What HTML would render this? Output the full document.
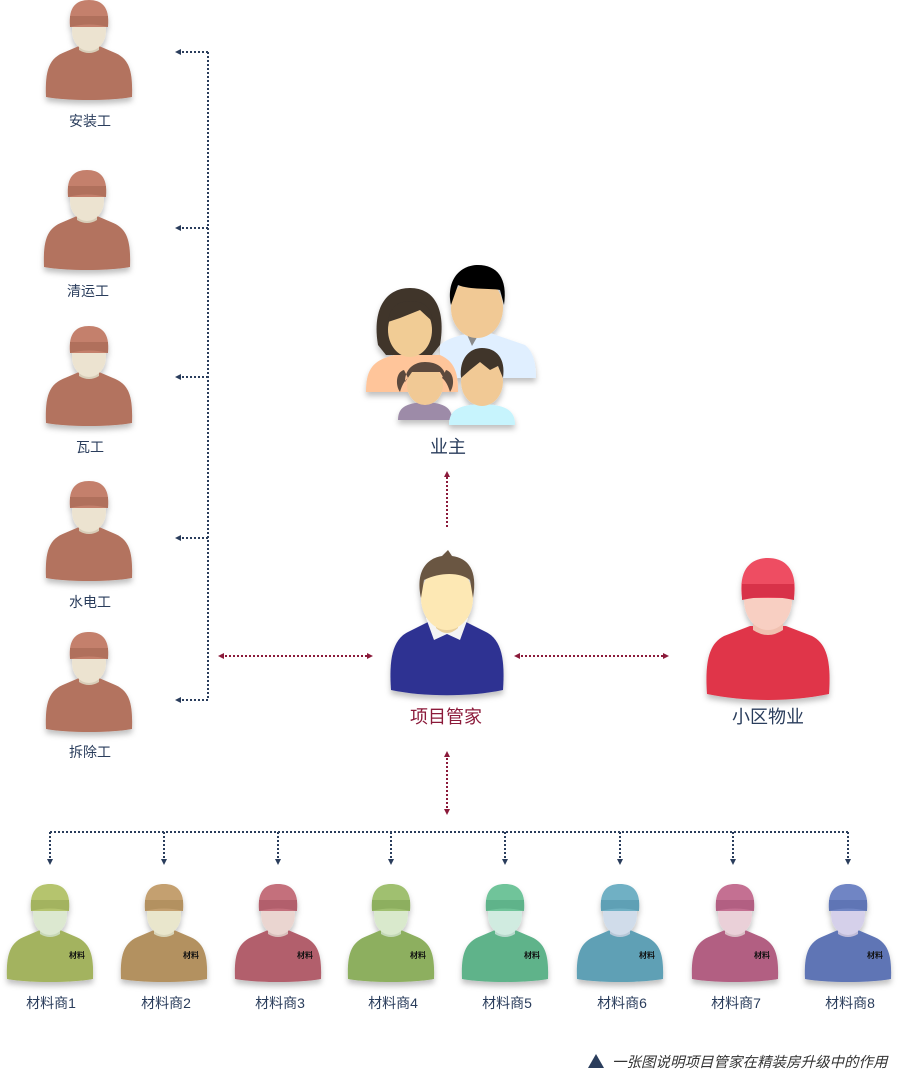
<!DOCTYPE html>
<html><head><meta charset="utf-8"><style>
html,body{margin:0;padding:0;background:#fff;}
svg{display:block;}
text{font-family:"Liberation Sans","Noto Sans CJK SC",sans-serif;}
</style></head><body>
<svg width="899" height="1069" viewBox="0 0 899 1069" xmlns="http://www.w3.org/2000/svg">
<defs>
<marker id="ab" markerWidth="6" markerHeight="6" refX="3" refY="3" orient="auto" markerUnits="userSpaceOnUse"><path d="M0,0 L6,3 L0,6Z" fill="#2a3d5c"/></marker>
<marker id="ar" markerWidth="6" markerHeight="6" refX="3" refY="3" orient="auto" markerUnits="userSpaceOnUse"><path d="M0,0 L6,3 L0,6Z" fill="#8b1a3a"/></marker>
<marker id="ars" markerWidth="6" markerHeight="6" refX="3" refY="3" orient="auto-start-reverse" markerUnits="userSpaceOnUse"><path d="M0,0 L6,3 L0,6Z" fill="#8b1a3a"/></marker>
<filter id="sh" x="-20%" y="-20%" width="140%" height="150%"><feDropShadow dx="0" dy="4" stdDeviation="3" flood-color="#000" flood-opacity="0.25"/></filter>
</defs>

<g stroke="#2a3d5c" stroke-width="2" stroke-dasharray="2 2" fill="none">
<path d="M208,52 L208,700"/>
<path d="M208,52 L178,52" marker-end="url(#ab)"/>
<path d="M208,228 L178,228" marker-end="url(#ab)"/>
<path d="M208,377 L178,377" marker-end="url(#ab)"/>
<path d="M208,538 L178,538" marker-end="url(#ab)"/>
<path d="M208,700 L178,700" marker-end="url(#ab)"/>
<path d="M50,832 L848,832"/>
<path d="M50,832 L50,862" marker-end="url(#ab)"/>
<path d="M164,832 L164,862" marker-end="url(#ab)"/>
<path d="M278,832 L278,862" marker-end="url(#ab)"/>
<path d="M391,832 L391,862" marker-end="url(#ab)"/>
<path d="M505,832 L505,862" marker-end="url(#ab)"/>
<path d="M620,832 L620,862" marker-end="url(#ab)"/>
<path d="M733,832 L733,862" marker-end="url(#ab)"/>
<path d="M848,832 L848,862" marker-end="url(#ab)"/>
</g>
<g stroke="#8b1a3a" stroke-width="2" stroke-dasharray="2 2" fill="none">
<path d="M447,527 L447,474" marker-end="url(#ar)"/>
<path d="M221,656 L370,656" marker-start="url(#ars)" marker-end="url(#ar)"/>
<path d="M517,656 L666,656" marker-start="url(#ars)" marker-end="url(#ar)"/>
<path d="M447,754 L447,812" marker-start="url(#ars)" marker-end="url(#ar)"/>
</g>

<g transform="translate(89,0)" filter="url(#sh)">
<path d="M-43,97 C-44,70 -40,58 -24,52 L-10,46 L10,46 L24,52 C40,58 44,70 43,97 C20,101 -20,101 -43,97Z" fill="#b3735f"/>
<path d="M-10,30 L-10,50 Q0,56 10,50 L10,30Z" fill="#d8cdb8"/>
<ellipse cx="0" cy="31" rx="17" ry="20" fill="#ece3d0"/>
<path d="M-19,27 C-21,6 -12,0 0,0 C12,0 21,6 19,27Z" fill="#c4806c"/>
<path d="M-19,16 L19,16 L19,27 Q0,22 -19,27Z" fill="#b0705c"/>
</g>
<g transform="translate(87,170)" filter="url(#sh)">
<path d="M-43,97 C-44,70 -40,58 -24,52 L-10,46 L10,46 L24,52 C40,58 44,70 43,97 C20,101 -20,101 -43,97Z" fill="#b3735f"/>
<path d="M-10,30 L-10,50 Q0,56 10,50 L10,30Z" fill="#d8cdb8"/>
<ellipse cx="0" cy="31" rx="17" ry="20" fill="#ece3d0"/>
<path d="M-19,27 C-21,6 -12,0 0,0 C12,0 21,6 19,27Z" fill="#c4806c"/>
<path d="M-19,16 L19,16 L19,27 Q0,22 -19,27Z" fill="#b0705c"/></g>
<g transform="translate(89,326)" filter="url(#sh)">
<path d="M-43,97 C-44,70 -40,58 -24,52 L-10,46 L10,46 L24,52 C40,58 44,70 43,97 C20,101 -20,101 -43,97Z" fill="#b3735f"/>
<path d="M-10,30 L-10,50 Q0,56 10,50 L10,30Z" fill="#d8cdb8"/>
<ellipse cx="0" cy="31" rx="17" ry="20" fill="#ece3d0"/>
<path d="M-19,27 C-21,6 -12,0 0,0 C12,0 21,6 19,27Z" fill="#c4806c"/>
<path d="M-19,16 L19,16 L19,27 Q0,22 -19,27Z" fill="#b0705c"/></g>
<g transform="translate(89,481)" filter="url(#sh)">
<path d="M-43,97 C-44,70 -40,58 -24,52 L-10,46 L10,46 L24,52 C40,58 44,70 43,97 C20,101 -20,101 -43,97Z" fill="#b3735f"/>
<path d="M-10,30 L-10,50 Q0,56 10,50 L10,30Z" fill="#d8cdb8"/>
<ellipse cx="0" cy="31" rx="17" ry="20" fill="#ece3d0"/>
<path d="M-19,27 C-21,6 -12,0 0,0 C12,0 21,6 19,27Z" fill="#c4806c"/>
<path d="M-19,16 L19,16 L19,27 Q0,22 -19,27Z" fill="#b0705c"/></g>
<g transform="translate(89,632)" filter="url(#sh)">
<path d="M-43,97 C-44,70 -40,58 -24,52 L-10,46 L10,46 L24,52 C40,58 44,70 43,97 C20,101 -20,101 -43,97Z" fill="#b3735f"/>
<path d="M-10,30 L-10,50 Q0,56 10,50 L10,30Z" fill="#d8cdb8"/>
<ellipse cx="0" cy="31" rx="17" ry="20" fill="#ece3d0"/>
<path d="M-19,27 C-21,6 -12,0 0,0 C12,0 21,6 19,27Z" fill="#c4806c"/>
<path d="M-19,16 L19,16 L19,27 Q0,22 -19,27Z" fill="#b0705c"/></g>
<g font-size="14" fill="#2a3d5c" text-anchor="middle">
<text x="90" y="126">安装工</text>
<text x="88" y="296">清运工</text>
<text x="90" y="452">瓦工</text>
<text x="90" y="607">水电工</text>
<text x="90" y="757">拆除工</text>
</g>

<g filter="url(#sh)">
<path d="M440,345 C452,334 478,332 490,333 L525,345 C534,352 536,365 536,378 L440,378Z" fill="#e0efff"/>
<path d="M465,330 L472,346 L480,332Z" fill="#8a8a8a"/>
<ellipse cx="477" cy="308" rx="26" ry="30" fill="#f1c995"/>
<path d="M451,305 C446,280 460,265 478,265 C497,265 508,278 504,305 L500,290 C490,288 470,290 458,285Z" fill="#050505"/>
<path d="M366,392 C366,370 372,360 395,355 L440,355 C456,362 458,375 458,392Z" fill="#ffc59a"/>
<path d="M378,345 C372,310 385,288 410,288 C435,288 446,310 440,345 L432,355 L386,355Z" fill="#3f342b"/>
<ellipse cx="410" cy="330" rx="22" ry="27" fill="#f1cc95"/>
<path d="M388,322 C390,305 400,300 412,302 C425,300 432,310 433,322 L420,310 L400,318Z" fill="#3f342b"/>
<path d="M398,420 C398,408 405,403 425,402 C445,403 452,408 452,420Z" fill="#9d8ba8"/>
<ellipse cx="425" cy="385" rx="18" ry="20" fill="#f1c995"/>
<path d="M405,382 C405,368 415,362 425,362 C437,362 447,368 446,382 L440,372 L412,372Z M404,370 C396,372 395,385 400,392 C402,385 405,380 408,378Z M446,370 C454,372 455,385 450,392 C448,385 445,380 442,378Z" fill="#5c4a3c"/>
<path d="M449,425 C449,410 458,405 482,404 C506,405 515,410 515,425Z" fill="#c7f4fd"/>
<ellipse cx="482" cy="382" rx="21" ry="24" fill="#f1c995"/>
<path d="M461,378 C459,358 470,348 482,348 C496,348 506,358 503,378 L498,366 L490,370 L480,362 L470,370Z" fill="#3f342b"/>
</g>
<text x="448" y="453" font-size="18" fill="#2a3d5c" text-anchor="middle">业主</text>

<g filter="url(#sh)">
<path d="M391,690 C389,660 392,640 408,632 L428,622 L466,622 L486,632 C502,640 505,660 503,690 C470,697 424,697 391,690Z" fill="#2e3192"/>
<path d="M426,618 L434,640 L447,634 L460,640 L468,618Z" fill="#f4f4f4"/>
<path d="M436,600 L436,628 Q447,638 458,628 L458,600Z" fill="#e8cf9c"/>
<ellipse cx="447" cy="598" rx="26" ry="32" fill="#fde8b4"/>
<path d="M421,598 C415,570 428,558 442,556 L448,550 L452,556 C468,558 478,570 473,598 L470,580 C460,572 440,572 424,580Z" fill="#6b5642"/>
</g>
<text x="446" y="723" font-size="18" fill="#8b1a3a" text-anchor="middle">项目管家</text>

<g filter="url(#sh)">
<path d="M707,694 C705,664 708,644 724,636 L750,626 L786,626 L812,636 C828,644 831,664 829,694 C790,702 746,702 707,694Z" fill="#e0344a"/>
<path d="M753,600 L753,630 Q768,640 783,630 L783,600Z" fill="#f0c0b0"/>
<ellipse cx="768" cy="600" rx="24" ry="30" fill="#f8cfc2"/>
<path d="M742,598 C738,568 752,558 768,558 C784,558 798,568 794,598Z" fill="#ee4d62"/>
<path d="M742,584 L794,584 L794,600 Q768,594 742,600Z" fill="#d8304a"/>
</g>
<text x="768" y="723" font-size="18" fill="#2a3d5c" text-anchor="middle">小区物业</text>

<g filter="url(#sh)">
<g transform="translate(50,884)">
<path d="M-43,95 C-44,70 -40,58 -24,52 L-10,46 L10,46 L24,52 C40,58 44,70 43,95 C20,99 -20,99 -43,95Z" fill="#a3b35f"/>
<path d="M-10,30 L-10,50 Q0,56 10,50 L10,30Z" fill="#c8d8b8"/><ellipse cx="0" cy="31" rx="17" ry="20" fill="#dce8d0"/>
<path d="M-19,27 C-21,6 -12,0 0,0 C12,0 21,6 19,27Z" fill="#b5c46e"/><path d="M-19,16 L19,16 L19,27 Q0,22 -19,27Z" fill="#a3b35f"/></g>
<g transform="translate(164,884)">
<path d="M-43,95 C-44,70 -40,58 -24,52 L-10,46 L10,46 L24,52 C40,58 44,70 43,95 C20,99 -20,99 -43,95Z" fill="#b39160"/>
<path d="M-10,30 L-10,50 Q0,56 10,50 L10,30Z" fill="#d8d4b8"/><ellipse cx="0" cy="31" rx="17" ry="20" fill="#e9e6cc"/>
<path d="M-19,27 C-21,6 -12,0 0,0 C12,0 21,6 19,27Z" fill="#c4a070"/><path d="M-19,16 L19,16 L19,27 Q0,22 -19,27Z" fill="#b39160"/></g>
<g transform="translate(278,884)">
<path d="M-43,95 C-44,70 -40,58 -24,52 L-10,46 L10,46 L24,52 C40,58 44,70 43,95 C20,99 -20,99 -43,95Z" fill="#b25f6c"/>
<path d="M-10,30 L-10,50 Q0,56 10,50 L10,30Z" fill="#d8c0bc"/><ellipse cx="0" cy="31" rx="17" ry="20" fill="#ead5d0"/>
<path d="M-19,27 C-21,6 -12,0 0,0 C12,0 21,6 19,27Z" fill="#c46f7c"/><path d="M-19,16 L19,16 L19,27 Q0,22 -19,27Z" fill="#b25f6c"/></g>
<g transform="translate(391,884)">
<path d="M-43,95 C-44,70 -40,58 -24,52 L-10,46 L10,46 L24,52 C40,58 44,70 43,95 C20,99 -20,99 -43,95Z" fill="#8daf5e"/>
<path d="M-10,30 L-10,50 Q0,56 10,50 L10,30Z" fill="#c4d8b8"/><ellipse cx="0" cy="31" rx="17" ry="20" fill="#d9e9cc"/>
<path d="M-19,27 C-21,6 -12,0 0,0 C12,0 21,6 19,27Z" fill="#a0c070"/><path d="M-19,16 L19,16 L19,27 Q0,22 -19,27Z" fill="#8daf5e"/></g>
<g transform="translate(505,884)">
<path d="M-43,95 C-44,70 -40,58 -24,52 L-10,46 L10,46 L24,52 C40,58 44,70 43,95 C20,99 -20,99 -43,95Z" fill="#5fb38a"/>
<path d="M-10,30 L-10,50 Q0,56 10,50 L10,30Z" fill="#b8d8cc"/><ellipse cx="0" cy="31" rx="17" ry="20" fill="#d0ebe0"/>
<path d="M-19,27 C-21,6 -12,0 0,0 C12,0 21,6 19,27Z" fill="#70c49a"/><path d="M-19,16 L19,16 L19,27 Q0,22 -19,27Z" fill="#5fb38a"/></g>
<g transform="translate(620,884)">
<path d="M-43,95 C-44,70 -40,58 -24,52 L-10,46 L10,46 L24,52 C40,58 44,70 43,95 C20,99 -20,99 -43,95Z" fill="#5fa0b5"/>
<path d="M-10,30 L-10,50 Q0,56 10,50 L10,30Z" fill="#b8c8d8"/><ellipse cx="0" cy="31" rx="17" ry="20" fill="#d0dcea"/>
<path d="M-19,27 C-21,6 -12,0 0,0 C12,0 21,6 19,27Z" fill="#70b0c4"/><path d="M-19,16 L19,16 L19,27 Q0,22 -19,27Z" fill="#5fa0b5"/></g>
<g transform="translate(735,884)">
<path d="M-43,95 C-44,70 -40,58 -24,52 L-10,46 L10,46 L24,52 C40,58 44,70 43,95 C20,99 -20,99 -43,95Z" fill="#b25f82"/>
<path d="M-10,30 L-10,50 Q0,56 10,50 L10,30Z" fill="#d8bcc4"/><ellipse cx="0" cy="31" rx="17" ry="20" fill="#ead0d8"/>
<path d="M-19,27 C-21,6 -12,0 0,0 C12,0 21,6 19,27Z" fill="#c46f92"/><path d="M-19,16 L19,16 L19,27 Q0,22 -19,27Z" fill="#b25f82"/></g>
<g transform="translate(848,884)">
<path d="M-43,95 C-44,70 -40,58 -24,52 L-10,46 L10,46 L24,52 C40,58 44,70 43,95 C20,99 -20,99 -43,95Z" fill="#5f75b5"/>
<path d="M-10,30 L-10,50 Q0,56 10,50 L10,30Z" fill="#c0bcd8"/><ellipse cx="0" cy="31" rx="17" ry="20" fill="#d5d0ea"/>
<path d="M-19,27 C-21,6 -12,0 0,0 C12,0 21,6 19,27Z" fill="#7085c4"/><path d="M-19,16 L19,16 L19,27 Q0,22 -19,27Z" fill="#5f75b5"/></g>
</g>
<g font-size="8" font-weight="bold" fill="#111">
<text x="69" y="958">材料</text><text x="183" y="958">材料</text><text x="297" y="958">材料</text><text x="410" y="958">材料</text>
<text x="524" y="958">材料</text><text x="639" y="958">材料</text><text x="754" y="958">材料</text><text x="867" y="958">材料</text>
</g>
<g font-size="14" fill="#2a3d5c" text-anchor="middle">
<text x="51" y="1008">材料商1</text><text x="166" y="1008">材料商2</text><text x="280" y="1008">材料商3</text><text x="393" y="1008">材料商4</text>
<text x="507" y="1008">材料商5</text><text x="622" y="1008">材料商6</text><text x="736" y="1008">材料商7</text><text x="850" y="1008">材料商8</text>
</g>

<path d="M588,1068 L596,1054 L604,1068Z" fill="#2a3d5c"/>
<text x="612" y="1067" font-size="14.5" font-style="italic" fill="#333">一张图说明项目管家在精装房升级中的作用</text>
</svg>
</body></html>
